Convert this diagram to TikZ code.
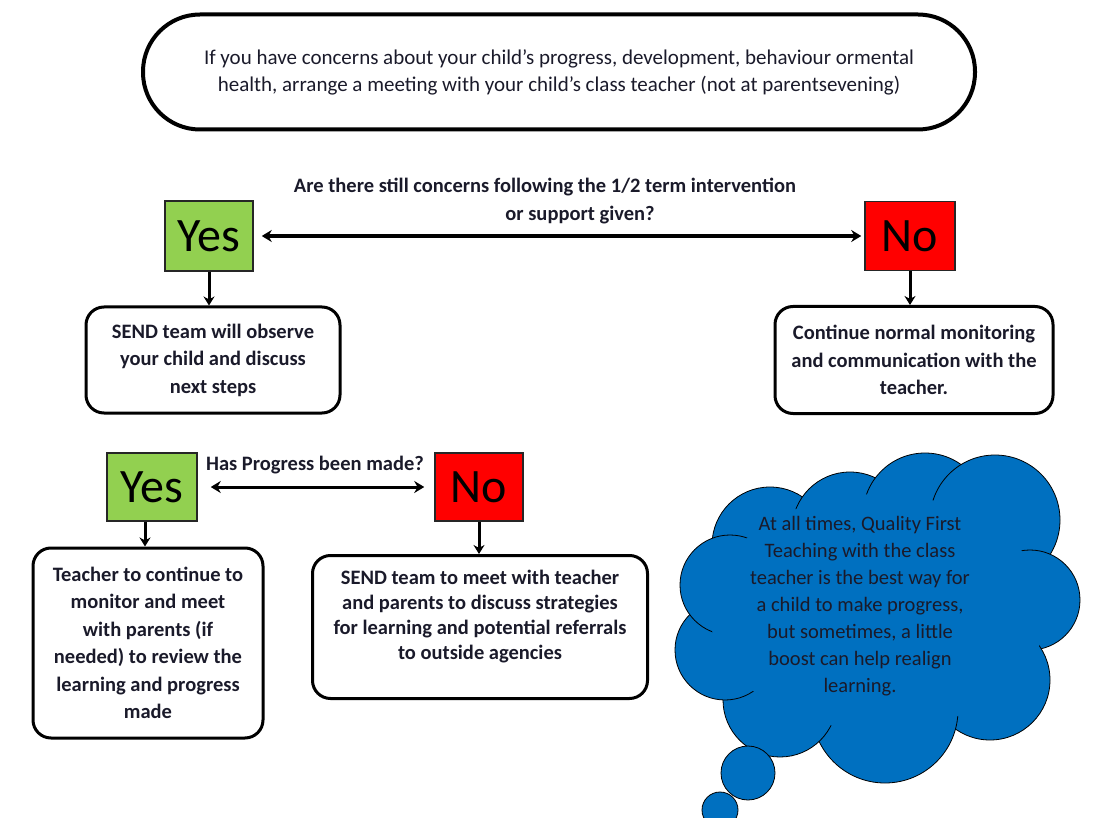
\documentclass[tikz,border=0pt]{standalone}
\usepackage{fontspec}
\setmainfont{Carlito}
\usetikzlibrary{arrows.meta,calc}
\definecolor{yesgreen}{HTML}{92D050}
\definecolor{nored}{HTML}{FF0000}
\definecolor{cloudblue}{HTML}{0070C0}
\definecolor{txt}{HTML}{1A1A2A}
\begin{document}
\begin{tikzpicture}[x=1pt,y=-1pt,
  roundbox/.style={draw=black, line width=3pt, rounded corners=18pt, align=center, inner sep=0pt, text=txt, font=\fontsize{20.5}{27.5}\selectfont\bfseries},
  choice/.style={draw=black!85, line width=1.5pt, inner sep=0pt, font=\fontsize{48}{48}\selectfont},
  yesbox/.style={choice, fill=yesgreen},
  nobox/.style={choice, fill=nored},
  arr/.style={line width=3pt, -{Stealth[length=9pt,width=11pt]}},
  darr/.style={line width=3.5pt, {Stealth[length=10pt,width=12pt]}-{Stealth[length=10pt,width=12pt]}},
  label/.style={align=center, text=txt, font=\fontsize{20.5}{28}\selectfont\bfseries, inner sep=0pt},
  lobe/.style={fill=cloudblue, draw=black, line width=0.8pt}
]
\useasboundingbox (0,0) rectangle (1095,818);

% top box
\node[draw=black, line width=4pt, rounded corners=57pt, minimum width=832pt, minimum height=115pt,
      align=center, inner sep=0pt, text=txt, font=\fontsize{21}{27}\selectfont] (start) at (559,72)
  {If you have concerns about your child’s progress, development, behaviour ormental\\
   health, arrange a meeting with your child’s class teacher (not at parentsevening)};

% first decision
\node[label] (q1) at (545,201) {Are there still concerns following the 1/2 term intervention\\\hspace*{70pt}or support given?};
\node[yesbox, minimum width=88pt, minimum height=70pt] (yes1) at (209,236) {Yes};
\node[nobox, minimum width=90pt, minimum height=69pt] (no1) at (910,236) {No};
\draw[darr, shorten <=8pt, shorten >=3pt] (yes1.east) -- (no1.west);

\node[roundbox, minimum width=254pt, minimum height=106pt] (box1) at (213,360)
  {SEND team will observe\\your child and discuss\\next steps};
\node[roundbox, minimum width=278pt, minimum height=107pt] (box2) at (914,360)
  {Continue normal monitoring\\and communication with the\\teacher.};
\draw[arr] (yes1.south) -- (yes1.south |- box1.north);
\draw[arr] (no1.south) -- (no1.south |- box2.north);

% second decision
\node[label] (q2) at (315,465) {Has Progress been made?};
\node[yesbox, minimum width=90pt, minimum height=68pt] (yes2) at (152,487) {Yes};
\node[nobox, minimum width=88pt, minimum height=68pt] (no2) at (479,487) {No};
\draw[darr, line width=3pt, shorten <=13pt, shorten >=10pt] (yes2.east) -- (no2.west);

\node[roundbox, minimum width=230pt, minimum height=190pt] (box3) at (148,643)
  {Teacher to continue to\\monitor and meet\\with parents (if\\needed) to review the\\learning and progress\\made};
\node[roundbox, minimum width=335pt, minimum height=143pt, font=\fontsize{20.5}{25}\selectfont\bfseries] (box4) at (480,627)
  {SEND team to meet with teacher\\and parents to discuss strategies\\for learning and potential referrals\\to outside agencies\\\mbox{}};
\draw[arr] ([xshift=-7pt]yes2.south) -- ([xshift=-7pt]yes2.south |- box3.north);
\draw[arr] (no2.south) -- (no2.south |- box4.north);

% cloud
\foreach \cx/\cy/\r in {770/545/58, 850/530/58, 925/515/62, 995/520/65, 1030/600/50,
                        990/680/60, 885/710/73, 780/700/57, 725/650/50, 730/585/50}
  \path[lobe] (\cx,\cy) circle[radius=\r pt];
\fill[cloudblue] (878,612) ellipse[x radius=168pt, y radius=118pt];
\path[lobe] (748,773) circle[radius=27pt];
\path[lobe] (720,810) circle[radius=18pt];
\node[align=center, text=txt, inner sep=0pt, font=\fontsize{20.5}{27}\selectfont] (note) at (860,606)
  {At all times, Quality First\\Teaching with the class\\teacher is the best way for\\a child to make progress,\\but sometimes, a little\\boost can help realign\\learning.};
\end{tikzpicture}
\end{document}
